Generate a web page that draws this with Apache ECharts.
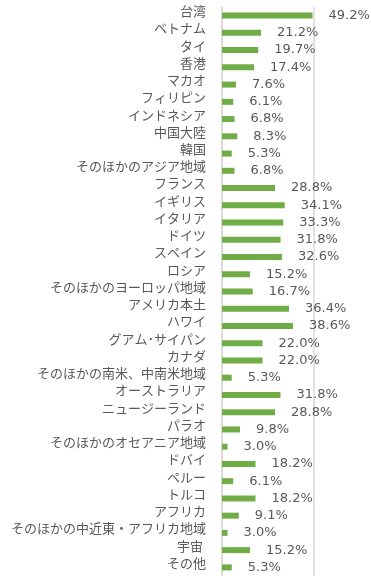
<!DOCTYPE html>
<html>
<head>
<meta charset="utf-8">
<script src="https://cdn.jsdelivr.net/npm/echarts@6/dist/echarts.min.js"></script>
<style>
  html, body { margin: 0; padding: 0; background: #fff; }
  #chart { width: 371px; height: 576px; }
</style>
</head>
<body>
<div id="chart"></div>
<script>
// Destinations, listed top to bottom
const categories = [
  '台湾', 'ベトナム', 'タイ', '香港', 'マカオ', 'フィリピン', 'インドネシア',
  '中国大陸', '韓国', 'そのほかのアジア地域', 'フランス', 'イギリス', 'イタリア',
  'ドイツ', 'スペイン', 'ロシア', 'そのほかのヨーロッパ地域', 'アメリカ本土',
  'ハワイ', 'グアム･サイパン', 'カナダ', 'そのほかの南米、中南米地域',
  'オーストラリア', 'ニュージーランド', 'パラオ', 'そのほかのオセアニア地域',
  'ドバイ', 'ペルー', 'トルコ', 'アフリカ', 'そのほかの中近東・アフリカ地域',
  '宇宙 ', 'その他'
];

// Share of respondents (%)
const shares = [
  49.2, 21.2, 19.7, 17.4, 7.6, 6.1, 6.8,
  8.3, 5.3, 6.8, 28.8, 34.1, 33.3,
  31.8, 32.6, 15.2, 16.7, 36.4,
  38.6, 22.0, 22.0, 5.3,
  31.8, 28.8, 9.8, 3.0,
  18.2, 6.1, 18.2, 9.1, 3.0,
  15.2, 5.3
];

const FONT = '"DejaVu Sans", "Noto Sans CJK JP", sans-serif';
const TEXT = '#595959';

const chart = echarts.init(document.getElementById('chart'), null, { renderer: 'canvas' });
chart.setOption({
  animation: false,
  grid: { left: 222, right: 57, top: 7, height: 570 },
  xAxis: {
    type: 'value',
    min: 0,
    max: 50,
    interval: 50,
    axisLabel: { show: false },
    axisTick: { show: false },
    axisLine: { show: false },
    splitLine: { show: true, lineStyle: { color: '#D9D9D9', width: 1.5 } }
  },
  yAxis: {
    type: 'category',
    data: categories,
    inverse: true,
    axisTick: { show: false },
    axisLine: { show: true, lineStyle: { color: '#D9D9D9', width: 1.5 } },
    axisLabel: {
      interval: 0,
      margin: 16,
      fontSize: 13,
      fontFamily: '"Noto Sans CJK JP", sans-serif',
      color: TEXT,
      verticalAlign: 'bottom',
      lineHeight: 9
    }
  },
  series: [{
    type: 'bar',
    data: shares,
    barWidth: 6,
    itemStyle: { color: '#70AD47' },
    label: {
      show: true,
      position: 'right',
      distance: 16,
      fontSize: 13,
      fontFamily: FONT,
      color: TEXT,
      formatter: p => p.value.toFixed(1) + '%'
    }
  }]
});
</script>
</body>
</html>
